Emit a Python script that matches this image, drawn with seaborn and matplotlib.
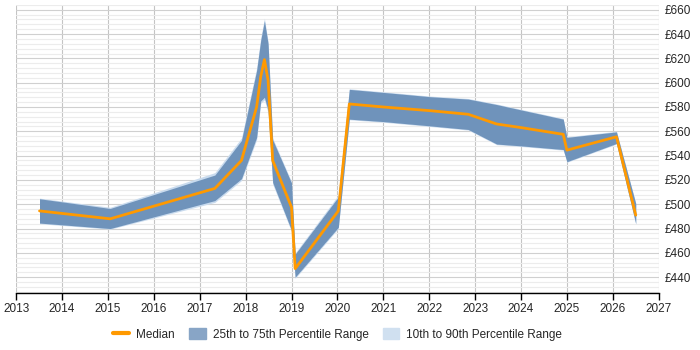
import matplotlib
matplotlib.use("Agg")
import matplotlib.pyplot as plt
import numpy as np
import pandas as pd
import seaborn as sns
from matplotlib.lines import Line2D
from matplotlib.patches import Patch

# data (decimal years, GBP)
years = [2013.51, 2015.05, 2017.33, 2017.91, 2018.24, 2018.33, 2018.41, 2018.49,
         2018.59, 2019.00, 2019.08, 2020.02, 2020.26, 2021.00, 2022.01, 2022.85,
         2023.47, 2024.01, 2024.92, 2025.00, 2026.08, 2026.50]
median = [494.5, 488, 513, 536, 580, 605, 619, 602,
          536, 497.5, 447, 494.5, 582.5, 580, 577, 574,
          566, 563, 557.5, 544.5, 555.5, 491]
p25 = [484.5, 480, 503, 521, 555, 585, 588, 577,
       518, 478.5, 440, 481, 570, 568, 564.5, 561.5,
       549.5, 548, 545, 535, 550, 484]
p75 = [504.5, 496.5, 524, 552.5, 610, 635, 651, 632,
       553, 517.5, 459, 506, 594.5, 592, 588.5, 586.5,
       582, 577.5, 570, 555, 559.5, 500.5]
p10 = [484, 479.5, 501.5, 519.5, 553, 583, 586, 575,
       516.5, 477.5, 439, 480, 569.5, 567.5, 564, 561,
       549, 547.5, 544.5, 534.5, 549.5, 483.5]
p90 = [505, 497.5, 526, 554.5, 612, 637, 653, 634,
       554.5, 518.5, 460, 507.5, 595, 592.5, 589, 587,
       582.5, 578, 570.5, 555.5, 560, 501]

df = pd.DataFrame({"year": years, "median": median})

sns.set_style("white")
plt.rcParams["font.family"] = ["Liberation Sans", "DejaVu Sans"]

fig = plt.figure(figsize=(7, 3.5), dpi=100)
ax = fig.add_axes([0.023, 0.163, 0.918, 0.823])

c_outer = "#c9dbee"
c_inner = "#6f93bb"
c_med = "#ff9900"

ax.fill_between(years, p10, p90, color=c_outer, lw=0, zorder=2)
ax.fill_between(years, p25, p75, color=c_inner, lw=0, zorder=3)
sns.lineplot(data=df, x="year", y="median", color=c_med, lw=2, ax=ax, zorder=4)

ax.set_xlim(2013, 2027)
ax.set_ylim(427, 664)
ax.set_xticks(range(2013, 2028))
ax.set_yticks(range(440, 661, 20))
ax.set_yticks(range(428, 665, 4), minor=True)
ax.set_yticklabels([f"£{v}" for v in range(440, 661, 20)])
ax.yaxis.tick_right()
ax.grid(axis="x", color="#c4c4c4", lw=0.8, zorder=0)
ax.grid(axis="y", which="major", color="#d0d0d0", lw=0.8, zorder=0)
ax.grid(axis="y", which="minor", color="#ececec", lw=0.8, zorder=0)
ax.set_axisbelow(True)
for s in ["top", "left", "right"]:
    ax.spines[s].set_visible(False)
ax.spines["bottom"].set_color("black")
ax.spines["bottom"].set_linewidth(1)
ax.tick_params(axis="x", which="major", length=5, width=1, color="black",
               labelsize=8.5, pad=2, bottom=True)
ax.tick_params(axis="y", which="both", length=0, labelsize=8.5, pad=4)
ax.set_xlabel("")
ax.set_ylabel("")

handles = [Line2D([0], [0], color=c_med, lw=3),
           Patch(color="#88a5c6"),
           Patch(color="#d0e0f0")]
labels = ["Median", "25th to 75th Percentile Range", "10th to 90th Percentile Range"]
fig.legend(handles, labels, loc="center", bbox_to_anchor=(0.482, 0.045), ncol=3,
           frameon=False, fontsize=8.5, handlelength=1.4, handleheight=1.1,
           columnspacing=1.2, handletextpad=0.6)

fig.savefig("out.png", dpi=100)
